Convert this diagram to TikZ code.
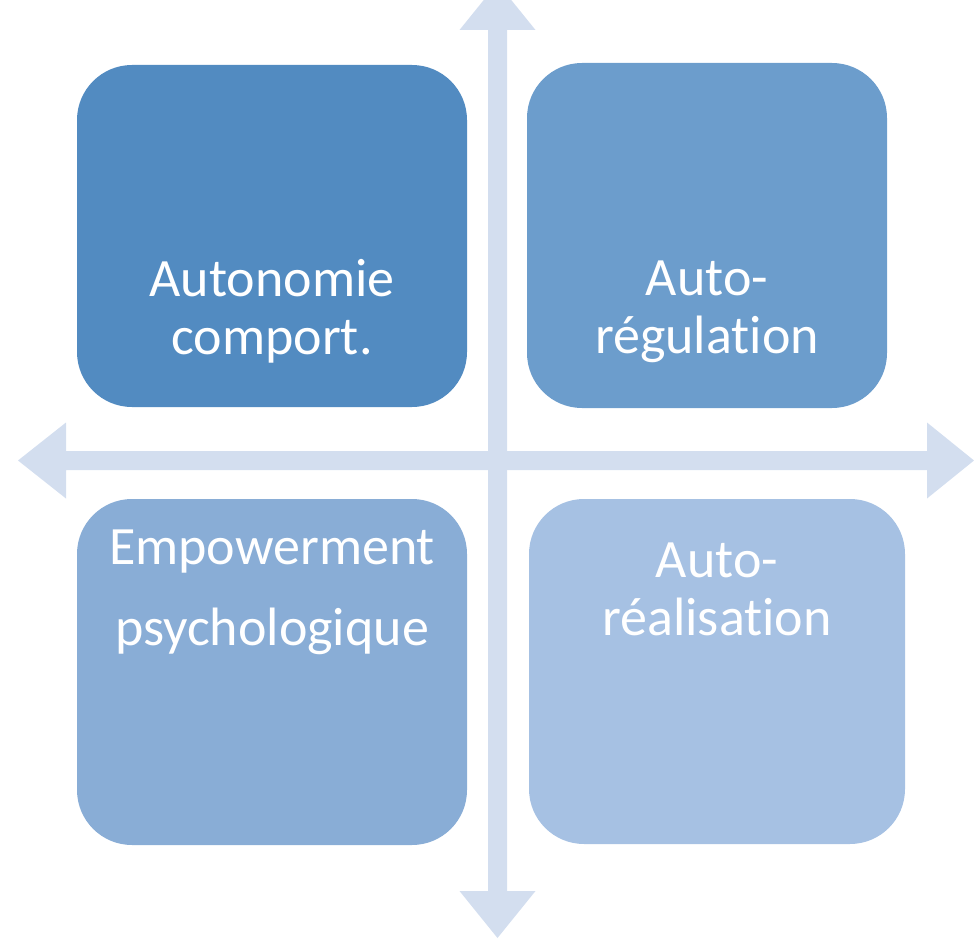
\documentclass[tikz,border=0pt]{standalone}
\usepackage{fontspec}
\setmainfont[Ligatures=NoCommon]{Carlito}
\usepackage{tikz}
\usetikzlibrary{positioning}
\definecolor{quadone}{RGB}{82,139,193}
\definecolor{quadtwo}{RGB}{108,157,204}
\definecolor{quadthree}{RGB}{137,173,214}
\definecolor{quadfour}{RGB}{166,193,227}
\definecolor{axisblue}{RGB}{211,222,239}
\tikzstyle{quad}=[rectangle, rounded corners=55pt, inner sep=0pt]
\tikzstyle{quadtext}=[anchor=base, align=center, text=white, inner sep=0pt]
\tikzstyle{axis}=[fill=axisblue]

\begin{document}
\begin{tikzpicture}[x=1pt, y=-1pt]
      \useasboundingbox (0,0) rectangle (974,944);
      \clip (0,0) rectangle (974,944);

      % axes
      \fill [axis] (18,460.5) -- (66,422.5) -- (66,451) -- (927,451) -- (927,422.5)
        -- (974,460.5) -- (927,498.5) -- (927,470) -- (66,470) -- (66,498.5) -- cycle;
      \fill [axis] (497.5,-17) -- (535.5,30) -- (507,30) -- (507,891) -- (535.5,891)
        -- (497.5,938) -- (459.5,891) -- (488,891) -- (488,30) -- (459.5,30) -- cycle;

      \node [quad, fill=quadone, minimum width=390pt, minimum height=342pt] (behav) at (272,236) {};
      \node [quad, fill=quadtwo, minimum width=360pt, minimum height=345pt] (selfreg) at (707,235.5) {};
      \node [quad, fill=quadthree, minimum width=390pt, minimum height=346pt] (empower) at (272,672) {};
      \node [quad, fill=quadfour, minimum width=376pt, minimum height=345pt] (selfreal) at (717,671.5) {};

      % base anchor sits on the last line
      \node [quadtext, font=\fontsize{54}{58}\selectfont] (behavtext) at (272,354) {Autonomie\\comport.};
      \node [quadtext, font=\fontsize{54}{58}\selectfont] (selfregtext) at (707,353) {Auto-\\régulation};
      \node [quadtext, font=\fontsize{54}{81}\selectfont] (empowertext) at (272,645) {Empowerment\\psychologique};
      \node [quadtext, font=\fontsize{54}{58}\selectfont] (selfrealtext) at (717,635) {Auto-\\réalisation};
    \end{tikzpicture}
\end{document}
